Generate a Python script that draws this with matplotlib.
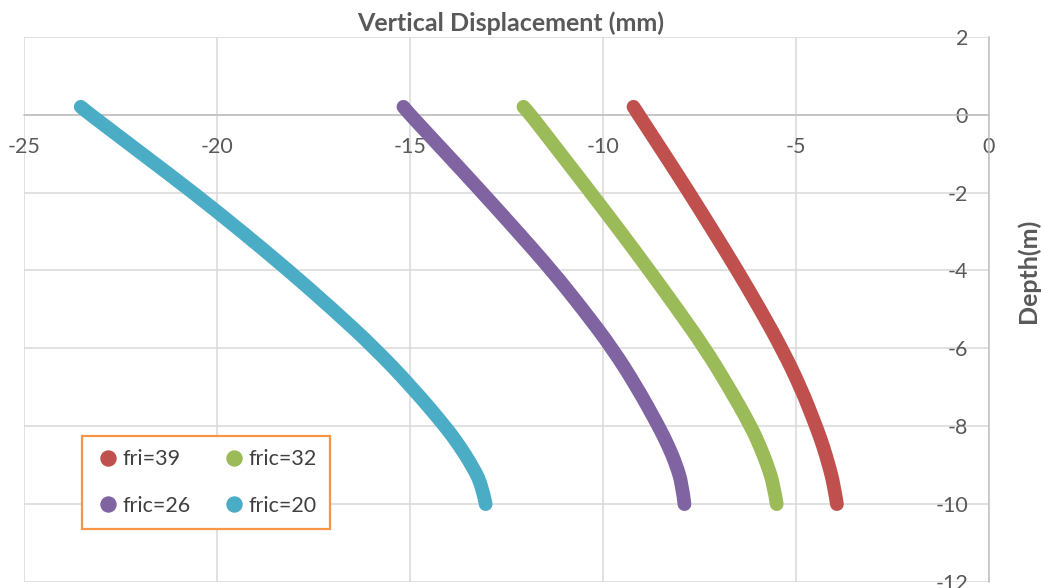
import matplotlib
matplotlib.use("Agg")
import numpy as np
import matplotlib.pyplot as plt
from matplotlib.lines import Line2D
from matplotlib.path import Path
from matplotlib.patches import PathPatch

plt.rcParams["font.family"] = ["Lato", "DejaVu Sans"]
plt.rcParams["axes.unicode_minus"] = False

# Depth below surface (m) at which displacements were read
depth = [0.2, 0.0, -1, -2, -3, -4, -5, -6, -7, -8, -8.5, -9, -9.5, -10]

# Vertical displacement (mm) for each friction angle
disp_fri39 = [-9.21, -9.08, -8.42, -7.77, -7.14, -6.52, -5.93, -5.37, -4.88, -4.48, -4.30, -4.15, -4.02, -3.94]
disp_fric32 = [-12.06, -11.88, -11.10, -10.32, -9.55, -8.80, -8.07, -7.36, -6.74, -6.17, -5.94, -5.74, -5.58, -5.50]
disp_fric26 = [-15.17, -15.00, -14.06, -13.13, -12.22, -11.33, -10.52, -9.76, -9.12, -8.56, -8.31, -8.10, -7.95, -7.89]
disp_fric20 = [-23.53, -23.28, -21.95, -20.62, -19.36, -18.15, -17.00, -15.91, -14.95, -14.09, -13.72, -13.40, -13.14, -13.04]

series_labels = ["fri=39", "fric=32", "fric=26", "fric=20"]
series_colors = ["#C0504D", "#9BBB59", "#8064A2", "#4BACC6"]
series_values = [disp_fri39, disp_fric32, disp_fric26, disp_fric20]

x_ticks = [-25, -20, -15, -10, -5, 0]
y_ticks = [2, 0, -2, -4, -6, -8, -10, -12]


def smooth_path(xs, ys):
    """Quadratic B-spline path through the readings (smoothed line)."""
    p = np.column_stack([xs, ys])
    n = len(p)
    verts = [p[0], (p[0] + p[1]) / 2]
    codes = [Path.MOVETO, Path.LINETO]
    for i in range(1, n - 2):
        verts += [p[i], (p[i] + p[i + 1]) / 2]
        codes += [Path.CURVE3, Path.CURVE3]
    verts += [p[n - 2], p[n - 1]]
    codes += [Path.CURVE3, Path.CURVE3]
    return Path(verts, codes)


W, H = 1041, 588
fig = plt.figure(figsize=(W / 100, H / 100), dpi=100)
left, right, top, bottom = 24, 989, 36.7, 582
ax = fig.add_axes([left / W, 1 - bottom / H, (right - left) / W, (bottom - top) / H])

for vals, col in zip(series_values, series_colors):
    patch = PathPatch(smooth_path(vals, depth), facecolor="none", edgecolor=col,
                      lw=9.9, capstyle="round", joinstyle="round", zorder=3)
    ax.add_patch(patch)

ax.set_xlim(-25, 0)
ax.set_ylim(-12, 2)
ax.set_xticks(x_ticks)
ax.set_yticks(y_ticks)
ax.grid(True, color="#d9d9d9", lw=1.1)
ax.set_axisbelow(True)

# axes cross at the origin: x labels under y=0, y labels left of x=0
ax.spines["bottom"].set_position(("data", 0))
ax.spines["left"].set_position(("data", 0))
for side in ("bottom", "left"):
    ax.spines[side].set_color("#bfbfbf")
    ax.spines[side].set_linewidth(1.1)
ax.spines["top"].set_visible(False)
ax.spines["right"].set_visible(False)
ax.tick_params(axis="x", length=0, pad=16, labelsize=15.5, labelcolor="#595959")
ax.tick_params(axis="y", length=0, pad=15, labelsize=15.5, labelcolor="#595959")
for lab in ax.get_yticklabels():
    lab.set_clip_on(False)

fig.text(511 / W, 1 - 23 / H, "Vertical Displacement (mm)", ha="center", va="center",
         fontsize=18, fontweight="bold", color="#595959")
fig.text(1028 / W, 1 - 271 / H, "Depth(m)", ha="center", va="center", rotation=90,
         fontsize=18, fontweight="bold", color="#595959")

order = [0, 2, 1, 3]
handles = [Line2D([], [], ls="", marker="o", markersize=10.8,
                  color=series_colors[i]) for i in order]
labels = [series_labels[i] for i in order]
leg = ax.legend(handles, labels, ncol=2, loc="upper left",
                bbox_to_anchor=(82 / W, 1 - 435.7 / H), bbox_transform=fig.transFigure,
                fontsize=15.5, frameon=True, fancybox=False, borderaxespad=0,
                borderpad=0.63, handlelength=1.14, handletextpad=0.09,
                columnspacing=1.48, labelspacing=1.22, labelcolor="#404040")
leg.get_frame().set_edgecolor("#F79646")
leg.get_frame().set_linewidth(1.6)
leg.get_frame().set_facecolor("white")
leg.get_frame().set_alpha(1)

fig.savefig("out.png", dpi=100, facecolor="white")
